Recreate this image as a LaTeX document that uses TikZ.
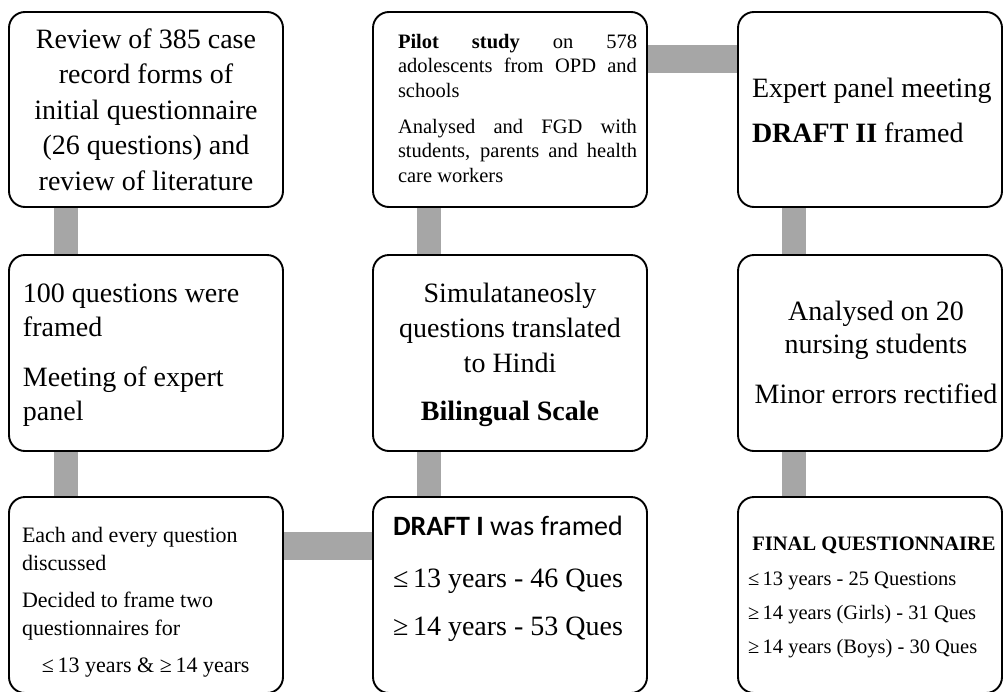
\documentclass[tikz,border=0pt]{standalone}
\usepackage{fontspec}
\setmainfont{Liberation Serif}
\newfontfamily\calibrifont{Carlito}
\usetikzlibrary{backgrounds}
\definecolor{barg}{RGB}{166,166,166}
\begin{document}
\begin{tikzpicture}[x=1pt,y=-1pt,
  box/.style={draw=black, line width=1.9pt, rounded corners=16pt, fill=white, inner sep=0pt, outer sep=0pt},
  vbar/.style={draw=barg, line width=24pt},
  hbar/.style={draw=barg, line width=28pt},
  txt/.style={inner sep=0pt, outer sep=0pt},
  big/.style={font=\fontsize{28}{#1}\selectfont},
]
\useasboundingbox (0,0) rectangle (1004,691);

% boxes
\node[box, minimum width=274pt, minimum height=195pt] (b11) at (146,109.5) {};
\node[box, minimum width=274pt, minimum height=195pt] (b12) at (510,109.5) {};
\node[box, minimum width=264pt, minimum height=195pt] (b13) at (870,109.5) {};
\node[box, minimum width=274pt, minimum height=196pt] (b21) at (146,353) {};
\node[box, minimum width=274pt, minimum height=196pt] (b22) at (510,353) {};
\node[box, minimum width=264pt, minimum height=196pt] (b23) at (870,353) {};
\node[box, minimum width=274pt, minimum height=196pt] (b31) at (146,595) {};
\node[box, minimum width=274pt, minimum height=196pt] (b32) at (510,595) {};
\node[box, minimum width=264pt, minimum height=196pt] (b33) at (870,595) {};

% texts (anchored at the baseline of their last line)
\node[txt, anchor=base, align=center, big=35.5] (t11) at (146,190)
  {Review of 385 case\\record forms of\\initial questionnaire\\(26 questions) and\\review of literature};
\node[txt, anchor=base west, align=left, font=\fontsize{20.5}{24.5}\selectfont] (t12) at (398,182)
  {\makebox[239pt][s]{\textbf{Pilot} \textbf{study} on 578}\\
   \makebox[239pt][s]{adolescents from OPD and}\\
   schools\\[11.5pt]
   \makebox[239pt][s]{Analysed and FGD with}\\
   \makebox[239pt][s]{students, parents and health}\\
   care workers};
\node[txt, anchor=base west, align=left, big=33] (t13) at (752,142)
  {Expert panel meeting\\[12pt]\textbf{DRAFT II} framed};

\node[txt, anchor=base west, align=left, big=34] (t21) at (23,420)
  {100 questions were\\framed\\[16pt]Meeting of expert\\panel};
\node[txt, anchor=base, align=center, big=35] (t22) at (510,420)
  {Simulataneosly\\questions translated\\to Hindi\\[13pt]\textbf{Bilingual Scale}};
\node[txt, anchor=base, align=center, big=33] (t23) at (876,403)
  {Analysed on 20\\nursing students\\[17pt]Minor errors rectified};

\node[txt, anchor=base west, align=left, font=\fontsize{22}{28}\selectfont] (t31) at (22,672)
  {Each and every question\\discussed\\[9pt]Decided to frame two\\questionnaires for\\[9pt]\hspace*{20pt}≤\,13 years \& ≥\,14 years};
\node[txt, anchor=base west, align=left, big=48] (t32) at (393,635)
  {{\calibrifont\textbf{DRAFT I} was framed}\\[4pt]≤\,13 years - 46 Ques\\≥\,14 years - 53 Ques};
\node[txt, anchor=base, font=\fontsize{20.5}{24}\selectfont\bfseries] (t33a) at (874,550)
  {FINAL QUESTIONNAIRE};
\node[txt, anchor=base west, align=left, font=\fontsize{20.5}{34}\selectfont] (t33b) at (748,653)
  {≤\,13 years - 25 Questions\\≥\,14 years (Girls) - 31 Ques\\≥\,14 years (Boys) - 30 Ques};

% connectors
\begin{scope}[on background layer]
\fill[white] (0,0) rectangle (1004,691);
\draw[vbar] ([xshift=56.5pt]b11.south west) -- ([xshift=56.5pt]b21.north west);
\draw[vbar] ([xshift=56.5pt]b21.south west) -- ([xshift=56.5pt]b31.north west);
\draw[vbar] ([xshift=56pt]b12.south west) -- ([xshift=56pt]b22.north west);
\draw[vbar] ([xshift=56pt]b22.south west) -- ([xshift=56pt]b32.north west);
\draw[vbar] ([xshift=56pt]b13.south west) -- ([xshift=56pt]b23.north west);
\draw[vbar] ([xshift=56pt]b23.south west) -- ([xshift=56pt]b33.north west);
\draw[hbar] ([yshift=-47pt]b12.north east) -- ([yshift=-47pt]b13.north west);
\draw[hbar] ([yshift=-49pt]b31.north east) -- ([yshift=-49pt]b32.north west);
\end{scope}
\end{tikzpicture}
\end{document}
